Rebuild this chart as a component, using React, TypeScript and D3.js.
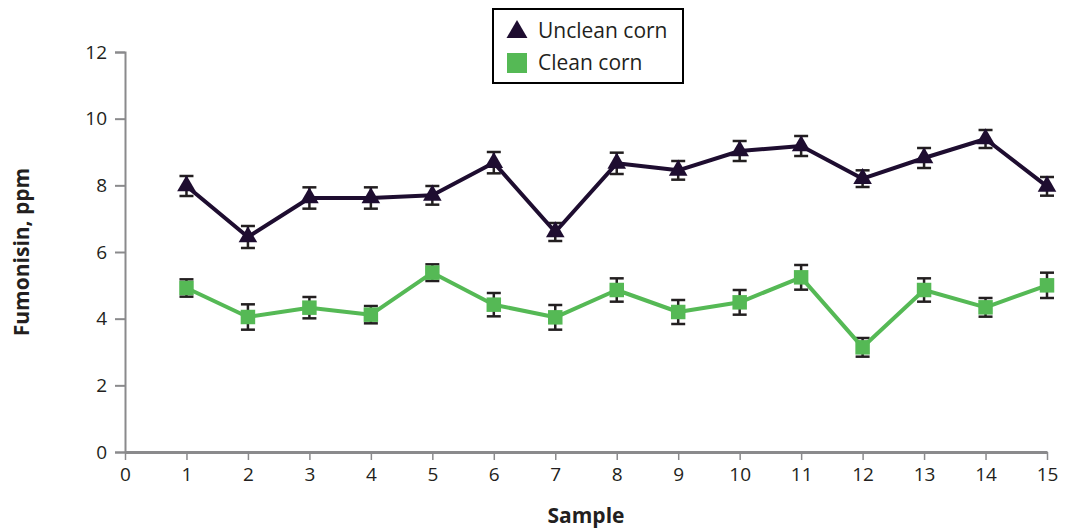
import { useRef, useEffect } from "react";
import * as d3 from "d3";

const WIDTH = 1070;
const HEIGHT = 531;

const samples = [1, 2, 3, 4, 5, 6, 7, 8, 9, 10, 11, 12, 13, 14, 15];
const uncleanMean = [7.98, 6.45, 7.62, 7.62, 7.7, 8.68, 6.6, 8.66, 8.45, 9.03, 9.18, 8.2, 8.82, 9.39, 7.97];
const uncleanErr = [0.3, 0.33, 0.32, 0.32, 0.28, 0.32, 0.27, 0.32, 0.28, 0.3, 0.3, 0.25, 0.3, 0.27, 0.28];
const cleanMean = [4.92, 4.05, 4.33, 4.12, 5.38, 4.42, 4.04, 4.86, 4.2, 4.49, 5.24, 3.14, 4.86, 4.34, 5.0];
const cleanErr = [0.26, 0.38, 0.32, 0.26, 0.25, 0.35, 0.37, 0.35, 0.36, 0.37, 0.37, 0.28, 0.35, 0.28, 0.38];
const xTicks = d3.range(0, 16);
const yTicks = [0, 2, 4, 6, 8, 10, 12];

const UNCLEAN = "#1e0d30";
const CLEAN = "#55b955";
const AXIS = "#8a8a8c";
const ERR = "#231f20";
const FONT = "'Open Sans', sans-serif";

const margin = { top: 52, right: 22, bottom: 79, left: 125 };

export default function App() {
  const svgRef = useRef<SVGSVGElement>(null);

  useEffect(() => {
    if (!svgRef.current) return;
    const svg = d3.select(svgRef.current);
    svg.selectAll("*").remove();

    const x = d3
      .scaleLinear()
      .domain([0, 15])
      .range([margin.left, WIDTH - margin.right - 1]);
    const y = d3
      .scaleLinear()
      .domain([0, 12])
      .range([HEIGHT - margin.bottom, margin.top]);

    // Y axis
    const yAxis = svg
      .append("g")
      .attr("transform", `translate(${margin.left},0)`)
      .call(d3.axisLeft(y).tickValues(yTicks).tickSize(10).tickPadding(8));
    yAxis.select(".domain").attr("stroke", AXIS).attr("stroke-width", 2);
    yAxis.selectAll(".tick line").attr("stroke", AXIS).attr("stroke-width", 2);
    yAxis
      .selectAll(".tick text")
      .attr("fill", "#231f20")
      .attr("font-size", 19)
      .attr("font-family", FONT);

    // X axis
    const xAxis = svg
      .append("g")
      .attr("transform", `translate(0,${y(0)})`)
      .call(d3.axisBottom(x).tickValues(xTicks).tickSize(8).tickSizeOuter(0).tickPadding(8));
    xAxis.select(".domain").attr("stroke", AXIS).attr("stroke-width", 3);
    xAxis.selectAll(".tick line").attr("stroke", AXIS).attr("stroke-width", 1.5);
    xAxis
      .selectAll(".tick text")
      .attr("fill", "#231f20")
      .attr("font-size", 19)
      .attr("font-family", FONT);

    // Axis titles
    svg
      .append("text")
      .attr("x", (x(0) + x(15)) / 2)
      .attr("y", 523)
      .attr("text-anchor", "middle")
      .attr("font-size", 21)
      .attr("font-weight", 700)
      .attr("font-family", FONT)
      .attr("fill", "#231f20")
      .text("Sample");

    svg
      .append("text")
      .attr("transform", `translate(29,${y(6)}) rotate(-90)`)
      .attr("text-anchor", "middle")
      .attr("font-size", 21)
      .attr("font-weight", 700)
      .attr("font-family", FONT)
      .attr("fill", "#231f20")
      .text("Fumonisin, ppm");

    const series = [
      { name: "Unclean corn", mean: uncleanMean, err: uncleanErr, color: UNCLEAN, shape: d3.symbolTriangle },
      { name: "Clean corn", mean: cleanMean, err: cleanErr, color: CLEAN, shape: d3.symbolSquare },
    ];

    const line = d3
      .line<number>()
      .x((_, i) => x(samples[i]))
      .y((d) => y(d));

    series.forEach((s) => {
      const g = svg.append("g");

      // error bars
      const eb = g
        .selectAll("g.err")
        .data(s.mean)
        .join("g")
        .attr("stroke", ERR)
        .attr("stroke-width", 2.5);
      eb.append("line")
        .attr("x1", (_, i) => x(samples[i]))
        .attr("x2", (_, i) => x(samples[i]))
        .attr("y1", (d, i) => y(d + s.err[i]))
        .attr("y2", (d, i) => y(d - s.err[i]));
      eb.append("line")
        .attr("x1", (_, i) => x(samples[i]) - 7)
        .attr("x2", (_, i) => x(samples[i]) + 7)
        .attr("y1", (d, i) => y(d + s.err[i]))
        .attr("y2", (d, i) => y(d + s.err[i]));
      eb.append("line")
        .attr("x1", (_, i) => x(samples[i]) - 7)
        .attr("x2", (_, i) => x(samples[i]) + 7)
        .attr("y1", (d, i) => y(d - s.err[i]))
        .attr("y2", (d, i) => y(d - s.err[i]));

      g.append("path")
        .attr("d", line(s.mean))
        .attr("fill", "none")
        .attr("stroke", s.color)
        .attr("stroke-width", 4)
        .attr("stroke-linejoin", "round");

      const size = s.shape === d3.symbolTriangle ? 150 : 210;
      g.selectAll("path.pt")
        .data(s.mean)
        .join("path")
        .attr("class", "pt")
        .attr("transform", (d, i) => `translate(${x(samples[i])},${y(d)})`)
        .attr("d", d3.symbol(s.shape, size)())
        .attr("fill", s.color);
    });

    // Legend
    const legend = svg.append("g").attr("transform", "translate(493,9)");
    legend
      .append("rect")
      .attr("width", 190)
      .attr("height", 74)
      .attr("fill", "#fff")
      .attr("stroke", "#000")
      .attr("stroke-width", 2);
    series.forEach((s, i) => {
      const cy = 22 + i * 32;
      legend
        .append("path")
        .attr("transform", `translate(24,${cy + (i === 0 ? 1 : 0)})`)
        .attr("d", d3.symbol(s.shape, i === 0 ? 190 : 400)())
        .attr("fill", s.color);
      legend
        .append("text")
        .attr("x", 45)
        .attr("y", cy + 7)
        .attr("font-size", 21)
        .attr("font-family", FONT)
        .attr("fill", "#231f20")
        .text(s.name);
    });
  }, []);

  return (
    <svg
      ref={svgRef}
      width={WIDTH}
      height={HEIGHT}
      style={{ position: "absolute", left: 0, top: 0, background: "#fff" }}
    />
  );
}
